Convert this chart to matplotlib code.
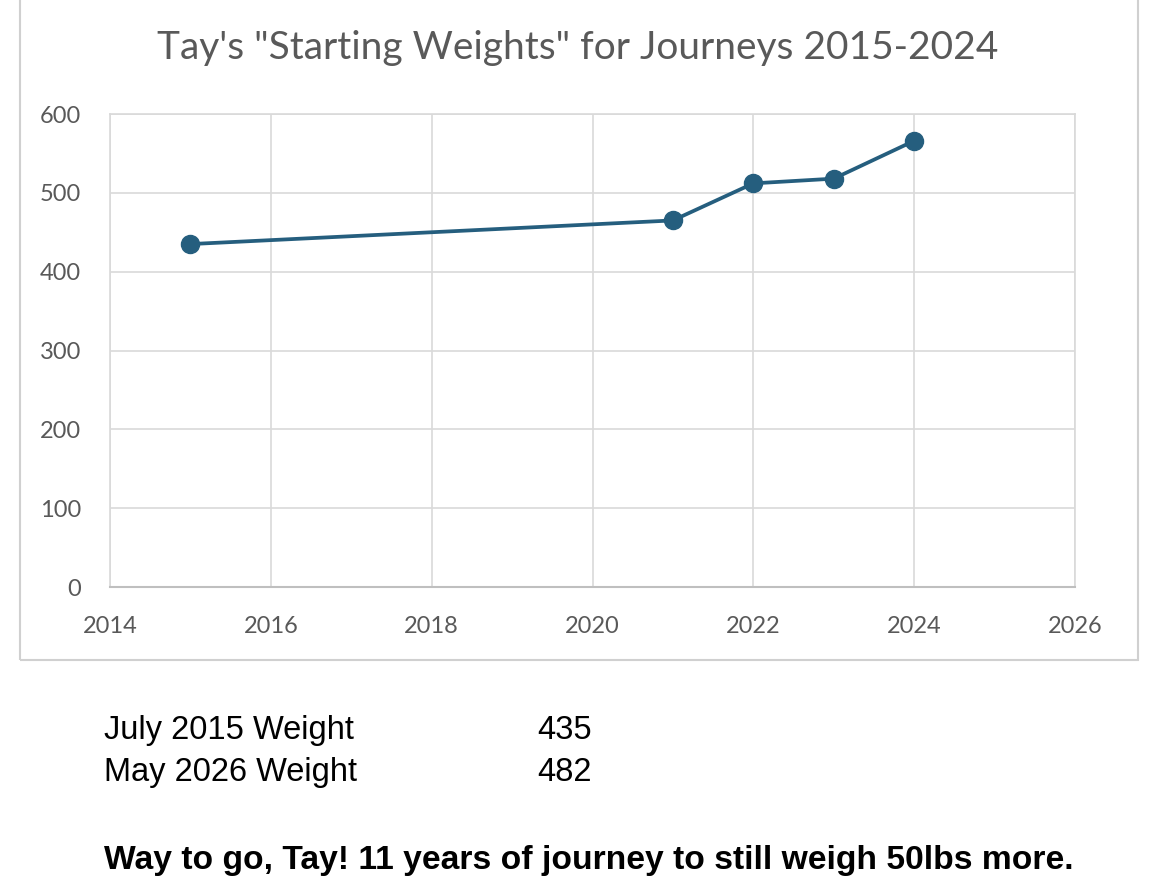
import matplotlib.pyplot as plt
from matplotlib.patches import Rectangle

years = [2015, 2021, 2022, 2023, 2024]
weights = [435, 465, 512, 518, 566]

x_ticks = [2014, 2016, 2018, 2020, 2022, 2024, 2026]
y_ticks = [0, 100, 200, 300, 400, 500, 600]

summary_labels = ["July 2015 Weight", "May 2026 Weight"]
summary_values = ["435", "482"]
footer = "Way to go, Tay! 11 years of journey to still weigh 50lbs more."

fig = plt.figure(figsize=(11.7, 8.96), dpi=100)

# chart box border (top runs off the picture)
box = Rectangle((20 / 1170, 1 - 660 / 896), 1118 / 1170, 670 / 896,
                transform=fig.transFigure, fill=False,
                edgecolor="#d0d0d0", linewidth=1.5)
fig.patches.append(box)

ax = fig.add_axes([110 / 1170, 1 - 587 / 896, 965 / 1170, 473 / 896])
ax.plot(years, weights, color="#255e7e", linewidth=2.7,
        marker="o", markersize=13, zorder=3)

ax.set_xlim(2014, 2026)
ax.set_ylim(0, 600)
ax.set_xticks(x_ticks)
ax.set_yticks(y_ticks)
ax.grid(color="#d9d9d9", linewidth=1.2)
ax.set_axisbelow(True)
for side in ["top", "left", "right"]:
    ax.spines[side].set_color("#d9d9d9")
    ax.spines[side].set_linewidth(1.2)
ax.spines["bottom"].set_color("#bfbfbf")
ax.spines["bottom"].set_linewidth(1.5)
ax.tick_params(length=0, labelsize=17, labelcolor="#595959")
ax.tick_params(axis="y", pad=21)
ax.tick_params(axis="x", pad=21)
for lab in ax.get_xticklabels() + ax.get_yticklabels():
    lab.set_fontfamily("Lato")

fig.text(578 / 1170, 1 - 48 / 896, 'Tay\'s "Starting Weights" for Journeys 2015-2024',
         ha="center", va="center", fontsize=28, color="#595959", family="Lato")

row_y = [730, 772]
for lab, val, y in zip(summary_labels, summary_values, row_y):
    fig.text(104 / 1170, 1 - y / 896, lab, ha="left", va="center",
             fontsize=23.5, color="black", family="Liberation Sans")
    fig.text(537 / 1170, 1 - y / 896, val, ha="left", va="center",
             fontsize=23.5, color="black", family="Liberation Sans")

fig.text(104 / 1170, 1 - 860 / 896, footer, ha="left", va="center",
         fontsize=24.2, fontweight="bold", color="black", family="Liberation Sans")

fig.savefig("out.png", dpi=100, facecolor="white")
